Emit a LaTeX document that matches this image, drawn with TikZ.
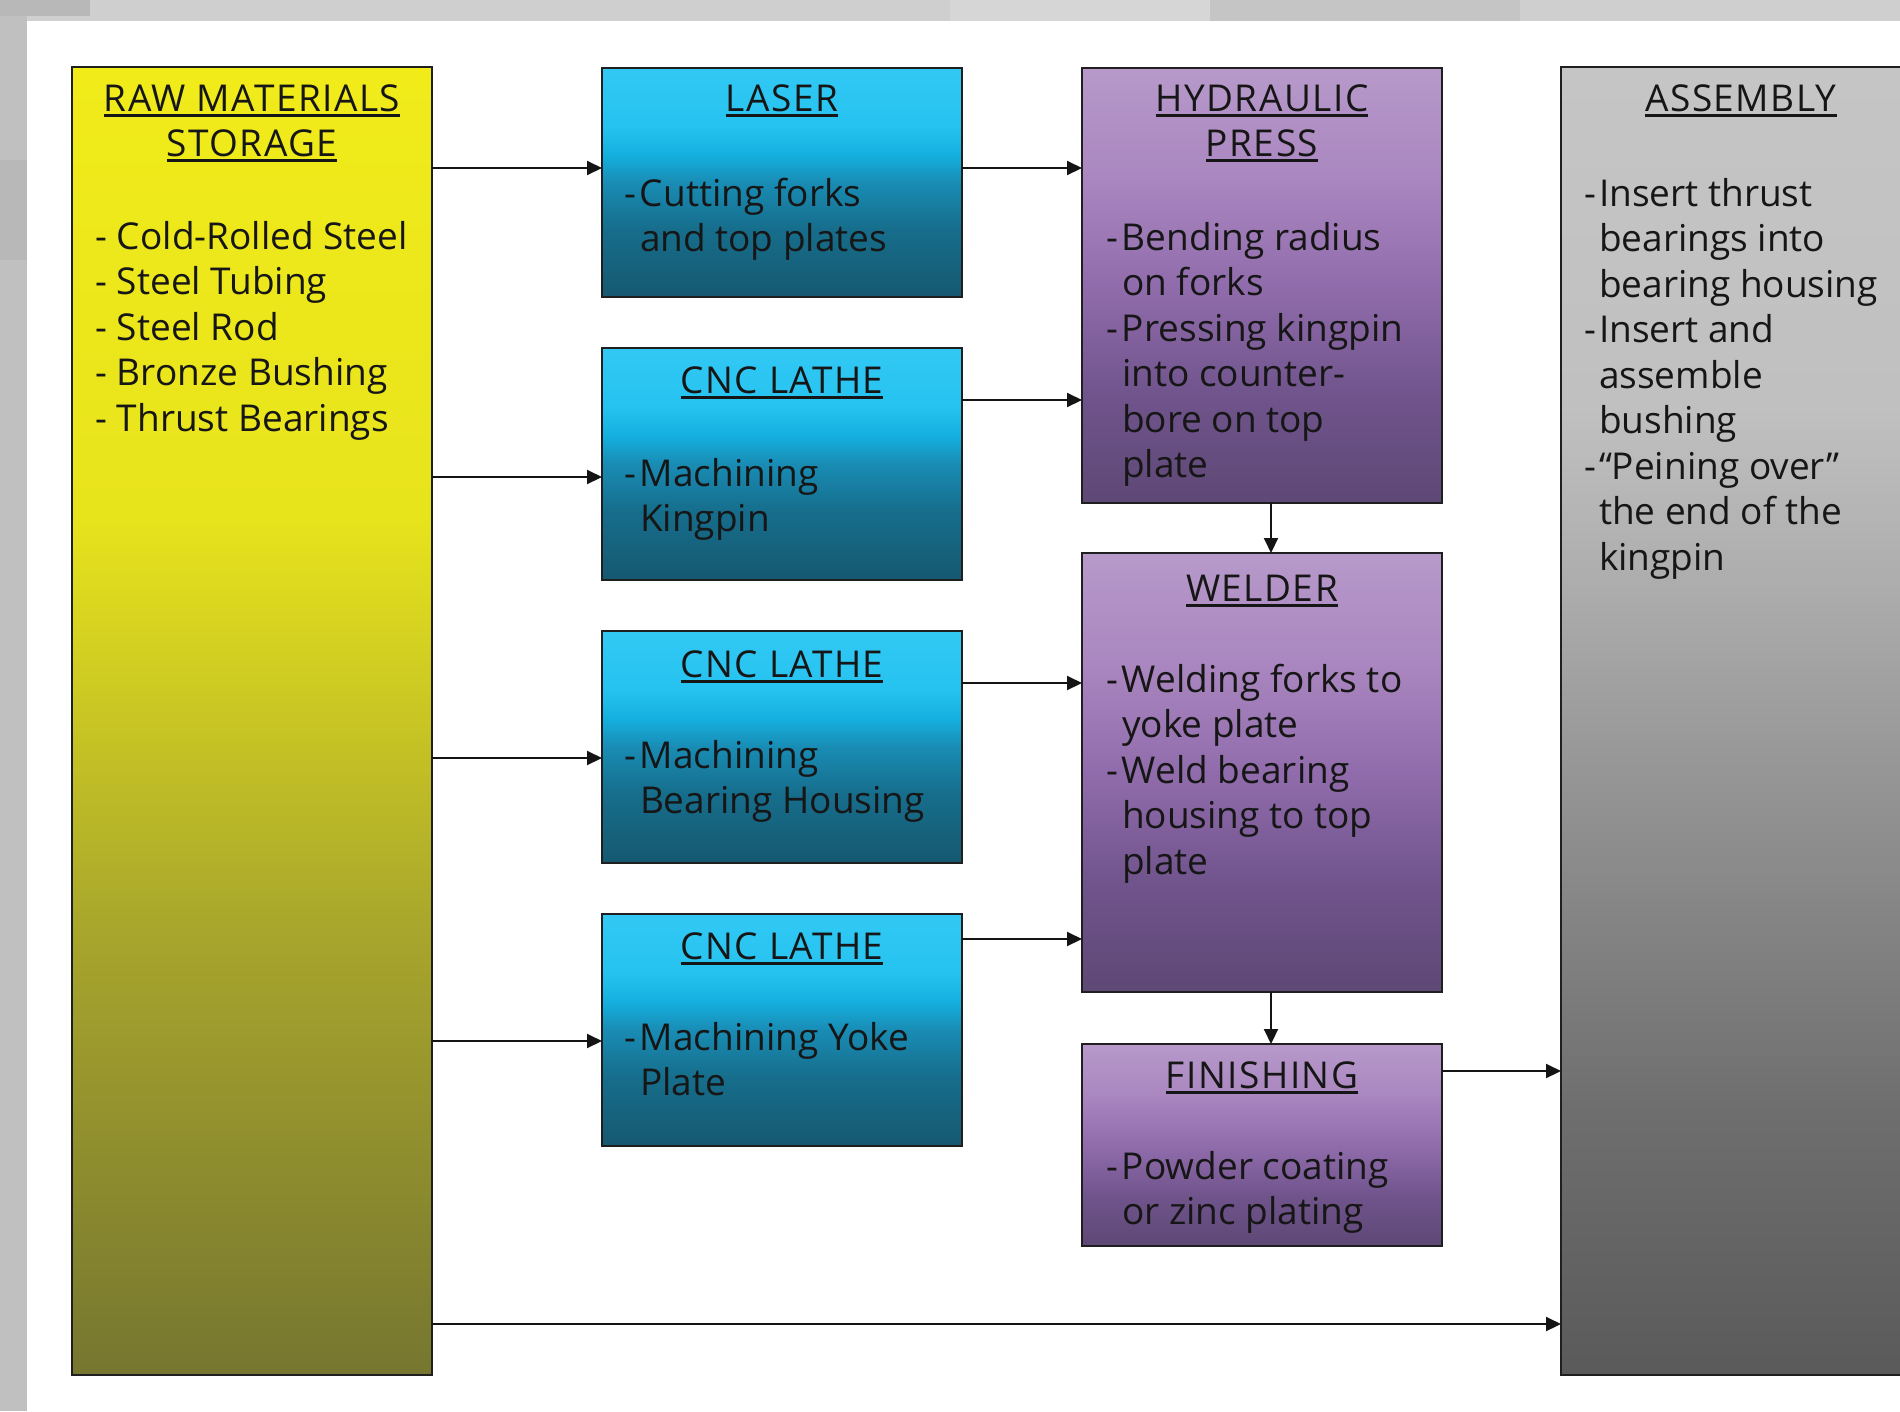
\documentclass[tikz,border=0pt]{standalone}
\usepackage{fontspec}
\setmainfont{Open Sans}
\usetikzlibrary{arrows.meta}

\definecolor{txtc}{RGB}{22,22,22}
\definecolor{bgtop}{RGB}{207,207,207}
\definecolor{bgleft}{RGB}{192,192,192}
\definecolor{bgdark}{RGB}{184,184,184}
\definecolor{bglight}{RGB}{214,214,214}

\definecolor{yA}{RGB}{118,118,48}
\definecolor{yB}{RGB}{168,166,44}
\definecolor{yC}{RGB}{232,228,28}
\definecolor{yD}{RGB}{241,235,26}
\pgfdeclareverticalshading{yelsh}{100bp}{color(0bp)=(yA); color(25bp)=(yA); color(42bp)=(yB); color(58bp)=(yC); color(75bp)=(yD); color(100bp)=(yD)}

\definecolor{bA}{RGB}{22,88,112}
\definecolor{bB}{RGB}{22,110,140}
\definecolor{bC}{RGB}{25,140,180}
\definecolor{bD}{RGB}{20,175,222}
\definecolor{bE}{RGB}{38,195,240}
\definecolor{bF}{RGB}{50,200,244}
\pgfdeclareverticalshading{bluesh}{100bp}{color(0bp)=(bA); color(25bp)=(bA); color(40bp)=(bB); color(50bp)=(bC); color(56bp)=(bD); color(62.5bp)=(bE); color(75bp)=(bF); color(100bp)=(bF)}

\definecolor{pA}{RGB}{94,72,118}
\definecolor{pB}{RGB}{112,84,140}
\definecolor{pC}{RGB}{145,108,172}
\definecolor{pD}{RGB}{170,135,192}
\definecolor{pE}{RGB}{183,153,202}
\pgfdeclareverticalshading{purpsh}{100bp}{color(0bp)=(pA); color(25bp)=(pA); color(37.5bp)=(pB); color(50bp)=(pC); color(62.5bp)=(pD); color(75bp)=(pE); color(100bp)=(pE)}

\definecolor{gA}{RGB}{90,90,90}
\definecolor{gB}{RGB}{110,110,110}
\definecolor{gC}{RGB}{140,140,140}
\definecolor{gD}{RGB}{172,172,172}
\definecolor{gE}{RGB}{192,192,192}
\definecolor{gF}{RGB}{197,197,197}
\pgfdeclareverticalshading{graysh}{100bp}{color(0bp)=(gA); color(25bp)=(gA); color(35bp)=(gB); color(45bp)=(gC); color(55bp)=(gD); color(62bp)=(gE); color(75bp)=(gF); color(100bp)=(gF)}

\newcommand\bfnt{\fontsize{37}{45.5}\selectfont}
\newcommand\dsh[1]{\makebox[#1][l]{-}}
\newlength\ttlw
\newcommand\ttl[1]{\settowidth\ttlw{\addfontfeature{LetterSpace=4}#1}%
  \rlap{\rule[-5.5pt]{\ttlw}{2.6pt}}{\addfontfeature{LetterSpace=4}#1}}

\begin{document}
\begin{tikzpicture}[x=1pt,y=-1pt,
  box/.style={draw=black!88, line width=2pt, minimum width=360pt, inner sep=0pt, outer sep=0pt, anchor=north west},
  txt/.style={anchor=north west, align=left, inner sep=0pt, outer sep=0pt, font=\bfnt, text=txtc, yshift=31.85pt},
  ttlnode/.style={anchor=north, align=center, inner sep=0pt, outer sep=0pt, font=\bfnt, text=txtc, yshift=31.85pt},
  arr/.style={line width=2pt, draw=black!92, -{Triangle[length=15pt,width=14pt]}}]
\useasboundingbox (0,0) rectangle (1900,1411);
\clip (0,0) rectangle (1900,1411);
% background
\fill[white] (0,0) rectangle (1900,1411);
\fill[bgtop] (0,0) rectangle (1900,21);
\fill[bglight] (950,0) rectangle (1210,21);
\fill[bgtop!95!black] (1210,0) rectangle (1520,21);
\fill[bgleft] (0,0) rectangle (27,1411);
\fill[bgdark] (0,0) rectangle (90,16);
\fill[bgdark] (0,160) rectangle (27,260);

% boxes
\node[box, shading=yelsh, minimum height=1308pt] (raw) at (72,67) {};
\node[box, shading=bluesh, minimum height=229pt] (laser) at (602,68) {};
\node[box, shading=bluesh, minimum height=232pt] (cnc1) at (602,348) {};
\node[box, shading=bluesh, minimum height=232pt] (cnc2) at (602,631) {};
\node[box, shading=bluesh, minimum height=232pt] (cnc3) at (602,914) {};
\node[box, shading=purpsh, minimum height=435pt] (hyd) at (1082,68) {};
\node[box, shading=purpsh, minimum height=439pt] (weld) at (1082,553) {};
\node[box, shading=purpsh, minimum height=202pt] (fin) at (1082,1044) {};
\node[box, shading=graysh, minimum height=1308pt] (asm) at (1561,67) {};

% texts
\node[ttlnode] (rawT) at (252,111) {\strut\ttl{RAW MATERIALS}\\\ttl{STORAGE}};
\node[txt] (rawL) at (95,249) {\strut\dsh{22pt}Cold-Rolled Steel\\\dsh{22pt}Steel Tubing\\\dsh{22pt}Steel Rod\\\dsh{22pt}Bronze Bushing\\\dsh{22pt}Thrust Bearings};

\node[ttlnode] (laserT) at (782,111) {\strut\ttl{LASER}};
\node[txt] (laserL) at (624,206) {\strut\dsh{16pt}Cutting forks\\\hspace*{16pt}and top plates};

\node[ttlnode] (cnc1T) at (782,393) {\strut\ttl{CNC LATHE}};
\node[txt] (cnc1L) at (624,486) {\strut\dsh{16pt}Machining\\\hspace*{16pt}Kingpin};

\node[ttlnode] (cnc2T) at (782,677) {\strut\ttl{CNC LATHE}};
\node[txt] (cnc2L) at (624,768) {\strut\dsh{16pt}Machining\\\hspace*{16pt}Bearing Housing};

\node[ttlnode] (cnc3T) at (782,959) {\strut\ttl{CNC LATHE}};
\node[txt] (cnc3L) at (624,1050) {\strut\dsh{16pt}Machining Yoke\\\hspace*{16pt}Plate};

\node[ttlnode] (hydT) at (1262,111) {\strut\ttl{HYDRAULIC}\\\ttl{PRESS}};
\node[txt] (hydL) at (1106,250) {\strut\dsh{16pt}Bending radius\\\hspace*{16pt}on forks\\\dsh{16pt}Pressing kingpin\\\hspace*{16pt}into counter-\\\hspace*{16pt}bore on top\\\hspace*{16pt}plate};

\node[ttlnode] (weldT) at (1262,601) {\strut\ttl{WELDER}};
\node[txt] (weldL) at (1106,692) {\strut\dsh{16pt}Welding forks to\\\hspace*{16pt}yoke plate\\\dsh{16pt}Weld bearing\\\hspace*{16pt}housing to top\\\hspace*{16pt}plate};

\node[ttlnode] (finT) at (1262,1088) {\strut\ttl{FINISHING}};
\node[txt] (finL) at (1106,1179) {\strut\dsh{16pt}Powder coating\\\hspace*{16pt}or zinc plating};

\node[ttlnode] (asmT) at (1741,111) {\strut\ttl{ASSEMBLY}};
\node[txt] (asmL) at (1584,206) {\strut\dsh{15pt}Insert thrust\\\hspace*{15pt}bearings into\\\hspace*{15pt}bearing housing\\\dsh{15pt}Insert and\\\hspace*{15pt}assemble\\\hspace*{15pt}bushing\\\dsh{15pt}“Peining over”\\\hspace*{15pt}the end of the\\\hspace*{15pt}kingpin};

% connector levels
\coordinate (ya) at (0,168);
\coordinate (yb) at (0,477);
\coordinate (yc) at (0,400);
\coordinate (yd) at (0,758);
\coordinate (ye) at (0,683);
\coordinate (yf) at (0,1041);
\coordinate (yg) at (0,939);
\coordinate (yh) at (0,1071);
\coordinate (yi) at (0,1324);
\coordinate (xv) at (1271,0);

\draw[arr] (raw.east |- ya) -- (laser.west |- ya);
\draw[arr] (laser.east |- ya) -- (hyd.west |- ya);
\draw[arr] (raw.east |- yb) -- (cnc1.west |- yb);
\draw[arr] (cnc1.east |- yc) -- (hyd.west |- yc);
\draw[arr] (raw.east |- yd) -- (cnc2.west |- yd);
\draw[arr] (cnc2.east |- ye) -- (weld.west |- ye);
\draw[arr] (raw.east |- yf) -- (cnc3.west |- yf);
\draw[arr] (cnc3.east |- yg) -- (weld.west |- yg);
\draw[arr] (fin.east |- yh) -- (asm.west |- yh);
\draw[arr] (raw.east |- yi) -- (asm.west |- yi);
\draw[arr] (hyd.south -| xv) -- (weld.north -| xv);
\draw[arr] (weld.south -| xv) -- (fin.north -| xv);
\end{tikzpicture}
\end{document}
